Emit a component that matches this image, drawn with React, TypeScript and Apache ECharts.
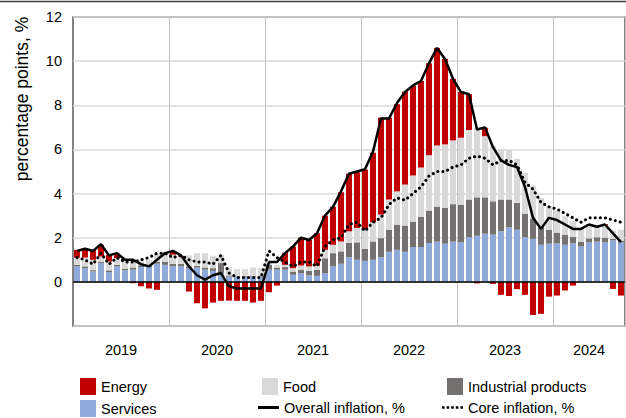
import React, { useEffect, useRef } from "react";
import * as echarts from "echarts";

const years = ["2019", "2020", "2021", "2022", "2023", "2024"];
const monthsInYear = [12, 12, 12, 12, 12, 9];
const months: string[] = [];
years.forEach((y, k) => {
  for (let m = 1; m <= monthsInYear[k]; m++) months.push(`${y}-${String(m).padStart(2, "0")}`);
});

// contributions, percentage points
const services = [
  0.70, 0.62, 0.47, 0.85, 0.44, 0.70, 0.52, 0.55, 0.67, 0.67, 0.82, 0.77,
  0.70, 0.70, 0.62, 0.65, 0.55, 0.50, 0.39, 0.24, 0.24, 0.24, 0.24, 0.24,
  0.55, 0.55, 0.55, 0.32, 0.40, 0.29, 0.27, 0.40, 0.70, 0.82, 1.12, 1.00,
  0.95, 1.00, 1.12, 1.36, 1.45, 1.36, 1.58, 1.58, 1.76, 1.82, 1.73, 1.82,
  1.79, 2.02, 2.09, 2.18, 2.14, 2.29, 2.47, 2.36, 2.02, 1.95, 1.68, 1.73,
  1.74, 1.68, 1.74, 1.60, 1.79, 1.82, 1.79, 1.88, 1.79,
];
const industrial = [
  0.07, 0.08, 0.06, 0.06, 0.08, 0.07, 0.08, 0.10, 0.08, 0.07, 0.08, 0.13,
  0.12, 0.12, 0.07, 0.08, 0.10, 0.12, 0.46, 0.05, 0.03, 0.03, 0.03, 0.03,
  0.22, 0.10, 0.12, 0.15, 0.15, 0.21, 0.28, 0.67, 0.60, 0.56, 0.64, 0.79,
  0.55, 0.83, 0.86, 1.00, 1.14, 1.19, 1.15, 1.37, 1.47, 1.59, 1.63, 1.70,
  1.71, 1.71, 1.74, 1.65, 1.51, 1.44, 1.26, 1.22, 1.07, 0.91, 0.80, 0.63,
  0.49, 0.46, 0.29, 0.22, 0.18, 0.20, 0.21, 0.07, 0.06,
];
const food = [
  0.33, 0.40, 0.47, 0.24, 0.40, 0.31, 0.40, 0.35, 0.25, 0.26, 0.36, 0.40,
  0.41, 0.33, 0.51, 0.57, 0.65, 0.56, 0.38, 0.33, 0.31, 0.31, 0.38, 0.35,
  0.15, 0.12, 0.10, 0.15, 0.19, 0.20, 0.18, 0.38, 0.38, 0.45, 0.53, 0.65,
  0.86, 0.87, 1.07, 1.37, 1.51, 1.86, 2.09, 2.23, 2.51, 2.77, 2.87, 2.89,
  3.03, 3.15, 3.12, 2.77, 2.50, 2.27, 2.24, 2.00, 1.85, 1.50, 1.32, 1.09,
  1.00, 0.83, 0.74, 0.57, 0.58, 0.50, 0.55, 0.38, 0.51,
];
const energy = [
  0.35, 0.43, 0.45, 0.53, 0.31, 0.18, 0.02, -0.06, -0.20, -0.30, -0.36, 0.02,
  0.15, 0.03, -0.44, -0.97, -1.20, -0.94, -0.86, -0.85, -0.86, -0.86, -0.94, -0.86,
  -0.47, -0.17, 0.53, 0.98, 1.26, 1.20, 1.47, 1.55, 1.72, 2.23, 2.61, 2.53,
  2.73, 3.15, 4.39, 3.71, 3.95, 4.21, 4.06, 3.92, 4.16, 4.42, 3.87, 2.79,
  2.07, 1.62, -0.07, 0.38, -0.09, -0.59, -0.64, -0.33, -0.59, -1.50, -1.45, -0.67,
  -0.62, -0.39, -0.17, 0.03, 0.05, 0.00, 0.06, -0.32, -0.62,
];
// headline and core inflation, %
const overall = [
  1.4, 1.5, 1.4, 1.7, 1.2, 1.3, 1.0, 1.0, 0.8, 0.7, 1.0, 1.3,
  1.4, 1.2, 0.7, 0.3, 0.1, 0.3, 0.4, -0.2, -0.3, -0.3, -0.3, -0.3,
  0.9, 0.9, 1.3, 1.6, 2.0, 1.9, 2.2, 3.0, 3.4, 4.1, 4.9, 5.0,
  5.1, 5.9, 7.4, 7.4, 8.1, 8.6, 8.9, 9.1, 9.9, 10.6, 10.1, 9.2,
  8.6, 8.5, 6.9, 7.0, 6.1, 5.5, 5.3, 5.2, 4.3, 2.9, 2.4, 2.9,
  2.8, 2.6, 2.4, 2.4, 2.6, 2.5, 2.6, 2.2, 1.8,
];
const core = [
  1.1, 1.0, 0.8, 1.3, 0.8, 1.1, 0.9, 0.9, 1.0, 1.1, 1.3, 1.3,
  1.1, 1.2, 1.0, 0.9, 0.9, 0.8, 1.2, 0.4, 0.2, 0.2, 0.2, 0.2,
  1.4, 1.1, 0.9, 0.7, 0.9, 0.9, 0.7, 1.6, 1.9, 2.0, 2.6, 2.7,
  2.3, 2.7, 2.9, 3.5, 3.8, 3.7, 4.0, 4.3, 4.8, 5.0, 5.0, 5.2,
  5.3, 5.6, 5.7, 5.6, 5.3, 5.5, 5.5, 5.3, 4.5, 4.2, 3.6, 3.4,
  3.3, 3.1, 2.9, 2.7, 2.9, 2.9, 2.9, 2.8, 2.7,
];
const yTicks = { min: -2, max: 12, interval: 2 };
const yearLabelIndex = [6, 18, 30, 42, 54, 64];

const FONT = "'Liberation Sans', Arial, sans-serif";
const FS = 14.5;
const C = {
  energy: "#c00000",
  food: "#d9d9d9",
  industrial: "#767171",
  services: "#8eaadb",
};
const DOTS_ICON =
  "path://M0,0h2.6v2.6h-2.6z M4.6,0h2.6v2.6h-2.6z M9.2,0h2.6v2.6h-2.6z M13.8,0h2.6v2.6h-2.6z M18.4,0h2.6v2.6h-2.6z";

export default function App() {
  const ref = useRef<HTMLDivElement>(null);
  useEffect(() => {
    if (!ref.current) return;
    const chart = echarts.init(ref.current, null, { renderer: "svg" });
    const bar = (name: string, data: number[], color: string, extra: any = {}) => ({
      name,
      type: "bar",
      stack: "total",
      data,
      barWidth: 6,
      itemStyle: { color },
      emphasis: { disabled: true },
      ...extra,
    });
    const legendText = { fontFamily: FONT, fontSize: FS, color: "#000" };
    const lg = (name: string, left: number, top: number, icon: string, w: number, h: number) => ({
      data: [name],
      left,
      top,
      padding: 0,
      icon,
      itemWidth: w,
      itemHeight: h,
      itemGap: 0,
      selectedMode: false,
      textStyle: legendText,
      itemStyle: { color: "inherit" },
    });
    chart.setOption({
      animation: false,
      grid: {
        left: 73,
        top: 17,
        width: 552,
        height: 309,
        show: true,
        borderColor: "#595959",
        borderWidth: 1.5,
      },
      legend: [
        lg("Energy", 80, 378, "rect", 16, 17),
        lg("Food", 262, 378, "rect", 16, 17),
        lg("Industrial products", 447, 378, "rect", 16, 17),
        lg("Services", 80, 400, "rect", 16, 17),
        lg("Overall inflation, %", 258, 400, "rect", 21, 3),
        lg("Core inflation, %", 442, 400, DOTS_ICON, 21, 2.6),
      ],
      xAxis: {
        type: "category",
        data: months,
        boundaryGap: true,
        axisLine: { show: false },
        axisTick: { show: false },
        splitLine: {
          show: true,
          interval: (i: number) => i % 12 === 0 && i > 0,
          lineStyle: { color: "#c4c4c4", width: 1 },
        },
        axisLabel: {
          interval: (i: number) => yearLabelIndex.includes(i),
          margin: 16,
          formatter: (v: string, i: number) => (i === 64 ? `{b|${v.slice(0, 4)}}` : `{a|${v.slice(0, 4)}}`),
          rich: {
            a: { fontFamily: FONT, fontSize: FS, color: "#000", padding: [0, 8, 0, 0] },
            b: { fontFamily: FONT, fontSize: FS, color: "#000" },
          },
        },
      },
      yAxis: {
        type: "value",
        ...yTicks,
        axisLine: { show: false },
        axisTick: { show: false },
        splitLine: { lineStyle: { color: "#d9d9d9", width: 1.5 } },
        axisLabel: {
          margin: 11,
          fontFamily: FONT,
          fontSize: FS,
          color: "#000",
          formatter: (v: number) => (v === -2 ? "" : String(v)),
        },
      },
      graphic: [
        {
          type: "line",
          shape: { x1: 0, y1: 1.5, x2: 626, y2: 1.5 },
          style: { stroke: "#404040", lineWidth: 1.5 },
        },
        {
          type: "text",
          x: 22,
          y: 99,
          rotation: Math.PI / 2,
          style: {
            text: "percentage points, %",
            font: `17.5px ${FONT}`,
            fill: "#000",
            align: "center",
            verticalAlign: "middle",
          },
        },
      ],
      series: [
        bar("Services", services, C.services, {
          markLine: {
            silent: true,
            symbol: "none",
            label: { show: false },
            lineStyle: { color: "#000", width: 1.5, type: "solid" },
            data: [{ yAxis: 0 }],
          },
        }),
        bar("Industrial products", industrial, C.industrial),
        bar("Food", food, C.food),
        bar("Energy", energy, C.energy),
        {
          name: "Overall inflation, %",
          type: "line",
          data: overall,
          symbol: "none",
          lineStyle: { color: "#000", width: 2.5 },
          itemStyle: { color: "#000" },
          z: 5,
        },
        {
          name: "Core inflation, %",
          type: "line",
          data: core,
          symbol: "none",
          lineStyle: { color: "#000", width: 3, type: [0.1, 5], cap: "round" },
          itemStyle: { color: "#000" },
          z: 4,
        },
      ],
    });
    return () => chart.dispose();
  }, []);
  return <div ref={ref} style={{ position: "absolute", left: 0, top: 0, width: 626, height: 418 }} />;
}
